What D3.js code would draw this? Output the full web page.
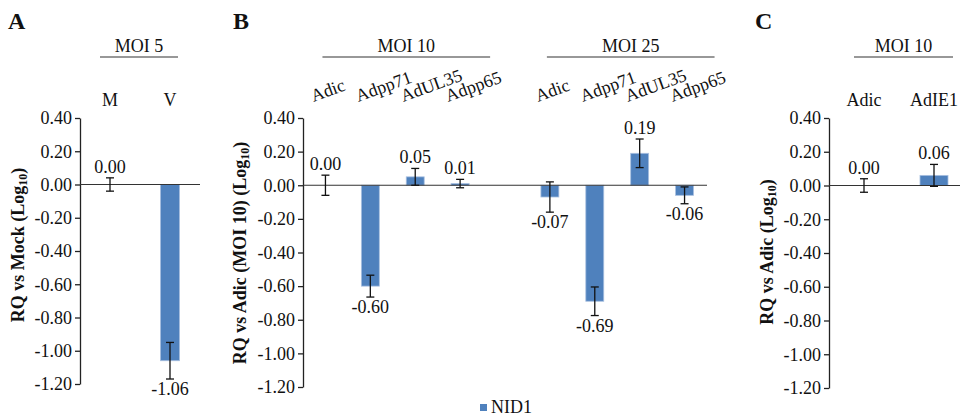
<!DOCTYPE html>
<html>
<head>
<meta charset="utf-8">
<script src="https://cdn.jsdelivr.net/npm/d3@7"></script>
<style>
  body { margin: 0; background: #fff; }
  text { font-family: "Liberation Serif", "Times New Roman", serif; fill: #111; }
</style>
</head>
<body>
<svg id="chart" width="960" height="417"></svg>
<script>
// panel A
var a_cats = ["M", "V"];
var a_vals = [0.00, -1.06];
var a_err  = [0.04, 0.11];
var a_headers = [{label: "MOI 5", from: 0, to: 1}];

// panel B (slot 4 is the empty gap between the two MOI groups)
var b_cats  = ["Adic", "Adpp71", "AdUL35", "Adpp65", "Adic", "Adpp71", "AdUL35", "Adpp65"];
var b_slots = [0, 1, 2, 3, 5, 6, 7, 8];
var b_vals  = [0.00, -0.60, 0.05, 0.01, -0.07, -0.69, 0.19, -0.06];
var b_err   = [0.06, 0.065, 0.05, 0.025, 0.09, 0.085, 0.085, 0.05];
var b_headers = [{label: "MOI 10", from: 0, to: 3}, {label: "MOI 25", from: 5, to: 8}];

// panel C
var c_cats = ["Adic", "AdIE1"];
var c_vals = [0.00, 0.06];
var c_err  = [0.04, 0.065];
var c_headers = [{label: "MOI 10", from: 0, to: 1}];

var y_ticks = [0.4, 0.2, 0, -0.2, -0.4, -0.6, -0.8, -1.0, -1.2];
var legend_label = "NID1";

var fmt = d3.formatLocale({decimal: ".", thousands: ",", grouping: [3], currency: ["", ""], minus: "-"}).format(".2f");
var svg = d3.select("#chart");
var barColor = "#4f81bd";
var fs = "18px";

function draw_panel(p) {
    var g = svg.append("g");
    var y = d3.scaleLinear().domain([-1.2, 0.4]).range([p.bottom, 118]);
    var x = d3.scaleBand().domain(d3.range(p.nSlots)).range([p.left, p.right]);
    var bw = x.bandwidth() * p.barRatio;
    var cx = function(s) { return x(s) + x.bandwidth() / 2; };

    // y axis
    var ax = g.append("g")
        .attr("transform", "translate(" + p.left + ",0)")
        .call(d3.axisLeft(y).tickValues(y_ticks).tickFormat(fmt).tickSize(5).tickSizeOuter(0));
    ax.select(".domain").attr("stroke", "#222").attr("stroke-width", 1.3);
    ax.selectAll(".tick line").attr("stroke", "#222").attr("stroke-width", 1.3);
    ax.selectAll(".tick text").attr("font-size", fs).attr("fill", "#111").attr("x", -8);

    var data = p.vals.map(function(v, i) {
        return {v: v, e: p.err[i], s: p.slots[i], cat: p.cats[i]};
    });

    // bars
    g.selectAll("rect.bar").data(data).enter().append("rect")
        .attr("class", "bar")
        .attr("x", function(d) { return cx(d.s) - bw / 2; })
        .attr("width", bw)
        .attr("y", function(d) { return y(Math.max(0, d.v)); })
        .attr("height", function(d) { return Math.abs(y(d.v) - y(0)); })
        .attr("fill", barColor)
        .attr("stroke", "#a9c0e0").attr("stroke-width", 0.8);

    // zero line
    g.append("line")
        .attr("x1", p.left).attr("x2", p.zeroEnd)
        .attr("y1", y(0)).attr("y2", y(0))
        .attr("stroke", "#333").attr("stroke-width", 1.2);

    // error bars
    var eb = g.selectAll("g.err").data(data).enter().append("g").attr("class", "err")
        .attr("stroke", "#111").attr("stroke-width", 1.3);
    eb.append("line")
        .attr("x1", function(d) { return cx(d.s); }).attr("x2", function(d) { return cx(d.s); })
        .attr("y1", function(d) { return y(d.v + d.e); }).attr("y2", function(d) { return y(d.v - d.e); });
    [1, -1].forEach(function(sign) {
        eb.append("line")
            .attr("x1", function(d) { return cx(d.s) - 4; }).attr("x2", function(d) { return cx(d.s) + 4; })
            .attr("y1", function(d) { return y(d.v + sign * d.e); }).attr("y2", function(d) { return y(d.v + sign * d.e); });
    });

    // value labels
    g.selectAll("text.val").data(data).enter().append("text")
        .attr("class", "val")
        .attr("x", function(d) { return cx(d.s); })
        .attr("y", function(d) { return d.v >= 0 ? y(d.v + d.e) - 5 : y(d.v - d.e) + 16; })
        .attr("text-anchor", "middle").attr("font-size", fs)
        .text(function(d) { return fmt(d.v); });

    // category labels
    g.selectAll("text.cat").data(data).enter().append("text")
        .attr("class", "cat")
        .attr("font-size", fs)
        .attr("text-anchor", p.rotate ? "start" : "middle")
        .attr("transform", function(d) {
            return p.rotate
                ? "translate(" + (cx(d.s) - 12) + ",102) rotate(-20)"
                : "translate(" + cx(d.s) + ",106)";
        })
        .text(function(d) { return d.cat; });

    // group headers
    p.headers.forEach(function(h) {
        var x1 = cx(h.from) - p.hdrPad[0], x2 = cx(h.to) + p.hdrPad[1];
        g.append("line").attr("x1", x1).attr("x2", x2).attr("y1", 57).attr("y2", 57)
            .attr("stroke", "#333").attr("stroke-width", 1.2);
        g.append("text").attr("x", (x1 + x2) / 2).attr("y", 52)
            .attr("text-anchor", "middle").attr("font-size", fs).text(h.label);
    });

    // y title
    var t = g.append("text")
        .attr("transform", "translate(" + p.titleX + "," + p.titleY + ") rotate(-90)")
        .attr("text-anchor", "middle").attr("font-size", "18px").attr("font-weight", "bold");
    t.append("tspan").text(p.title + " (Log");
    t.append("tspan").attr("font-size", "12px").attr("dy", 3).text("10");
    t.append("tspan").attr("dy", -3).text(")");

    // panel letter
    g.append("text").attr("x", p.letterX).attr("y", 29)
        .attr("font-size", "24px").attr("font-weight", "bold").text(p.letter);
}

draw_panel({letter: "A", letterX: 8, left: 80, right: 200, zeroEnd: 200, bottom: 384,
    nSlots: 2, slots: [0, 1], cats: a_cats, vals: a_vals, err: a_err, barRatio: 0.32,
    headers: a_headers, hdrPad: [10, 8], rotate: false,
    title: "RQ vs Mock", titleX: 24, titleY: 245});

draw_panel({letter: "B", letterX: 233, left: 303, right: 707, zeroEnd: 707, bottom: 387,
    nSlots: 9, slots: b_slots, cats: b_cats, vals: b_vals, err: b_err, barRatio: 0.4,
    headers: b_headers, hdrPad: [3, 30], rotate: true,
    title: "RQ vs Adic (MOI 10)", titleX: 246, titleY: 253});

draw_panel({letter: "C", letterX: 755, left: 829, right: 969, zeroEnd: 969, bottom: 388,
    nSlots: 2, slots: [0, 1], cats: c_cats, vals: c_vals, err: c_err, barRatio: 0.4,
    headers: c_headers, hdrPad: [10, 19], rotate: false,
    title: "RQ vs Adic", titleX: 773, titleY: 252});

// legend
var lg = svg.append("g").attr("transform", "translate(480,404)");
lg.append("rect").attr("width", 7).attr("height", 7).attr("fill", barColor);
lg.append("text").attr("x", 11).attr("y", 9).attr("font-size", fs).text(legend_label);
</script>
</body>
</html>
